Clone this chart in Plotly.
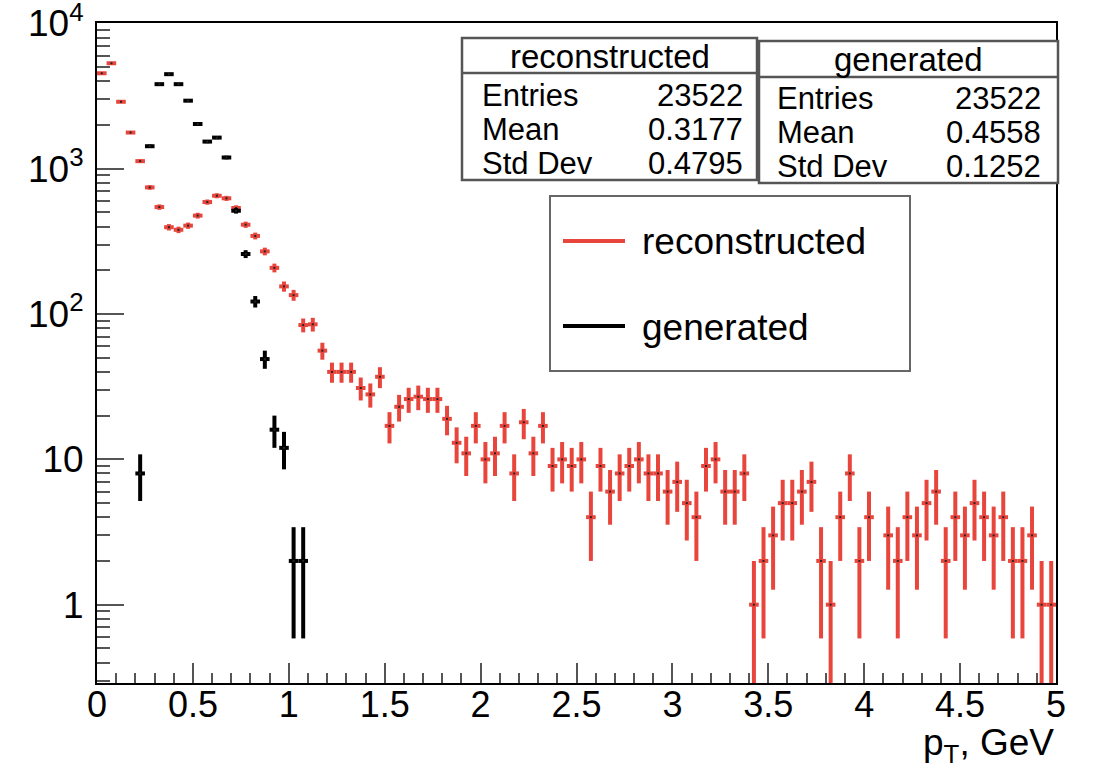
import numpy as np
import plotly.graph_objects as go

# ---------------- data ----------------
BIN_LOW, BIN_HIGH, N_BINS = 0.0, 5.0, 100

reco_counts = [
    4540, 5320, 2890, 1775, 1128, 744, 545, 396, 380, 406,
    476, 590, 652, 626, 537, 412, 345, 270, 208, 155,
    135, 84, 85, 56, 40, 40, 40, 31, 28, 37,
    17, 23, 26, 27, 26, 26, 19, 13, 11, 17,
    10, 11, 17, 8, 18, 11, 17, 9, 10, 9,
    10, 4, 9, 6, 8, 9, 10, 8, 8, 6,
    7, 5, 4, 9, 10, 6, 6, 8, 1, 2,
    3, 5, 5, 6, 7, 2, 1, 4, 8, 2,
    4, 0, 3, 2, 4, 3, 5, 6, 2, 4,
    3, 5, 4, 3, 4, 2, 2, 3, 1, 1,
]

gen_counts = [
    0, 0, 0, 0, 8, 1429, 3820, 4475, 3820, 2940,
    2032, 1538, 1638, 1195, 514, 259, 122, 49, 16, 12,
    2, 2, 0, 0, 0, 0, 0, 0, 0, 0,
] + [0] * 70

series_names = ["reconstructed", "generated"]
stat_labels = ["Entries", "Mean", "Std Dev"]
reco_stats = ["23522", "0.3177", "0.4795"]
gen_stats = ["23522", "0.4558", "0.1252"]

y_tickvals = [1, 10, 100, 1000, 10000]
y_ticktext = ["1", "10", "10<sup>2</sup>", "10<sup>3</sup>", "10<sup>4</sup>"]
x_title = "p<sub>T</sub>, GeV"

# ---------------- style ----------------
RED = "#e8453c"
BLACK = "#000000"
FONT = "Liberation Sans, Arial, Helvetica, sans-serif"
W, H = 1094, 773
L, R, T, B = 97, 38, 23, 90
PW, PH = W - L - R, H - T - B


def px(x):
    return (x - L) / PW


def py(y):
    return (H - B - y) / PH


bw = (BIN_HIGH - BIN_LOW) / N_BINS
centers = BIN_LOW + (np.arange(N_BINS) + 0.5) * bw


def hist_trace(counts, color, name):
    c = np.asarray(counts, dtype=float)
    m = c > 0
    return go.Scatter(
        x=centers[m], y=c[m], mode="markers", name=name, showlegend=False,
        marker=dict(size=2, color="#222222", symbol="square"),
        error_y=dict(type="data", array=np.sqrt(c[m]), color=color,
                     thickness=4, width=0),
        error_x=dict(type="constant", value=bw / 2, color=color,
                     thickness=4, width=0),
        hoverinfo="x+y",
    )


fig = go.Figure()
fig.add_trace(hist_trace(reco_counts, RED, series_names[0]))
fig.add_trace(hist_trace(gen_counts, BLACK, series_names[1]))

minor_y = [m * 10 ** d for d in range(-1, 4) for m in range(2, 10)
           if 10 ** (-0.54) <= m * 10 ** d <= 1e4]

fig.update_layout(
    width=W, height=H,
    margin=dict(l=L, r=R, t=T, b=B, autoexpand=False),
    paper_bgcolor="white", plot_bgcolor="white",
    font=dict(family=FONT, color="black"),
    showlegend=False,
    xaxis=dict(
        range=[BIN_LOW, BIN_HIGH], showline=True, linecolor="black",
        linewidth=2, mirror=True, ticks="inside", ticklen=20, tickwidth=2,
        tickcolor="#555555", tick0=0, dtick=0.5, showgrid=False,
        zeroline=False, tickfont=dict(size=36, family=FONT),
        ticklabelstandoff=-11, ticklabeloverflow="allow", automargin=False,
        minor=dict(dtick=0.1, tick0=0, ticks="inside", ticklen=10,
                   tickwidth=1.5, tickcolor="#555555", showgrid=False),
    ),
    yaxis=dict(
        type="log", range=[-0.539, 4.003], showline=True, linecolor="black",
        linewidth=2, mirror=True, ticks="inside", ticklen=27, tickwidth=2,
        tickcolor="#555555", tickmode="array", tickvals=y_tickvals,
        ticktext=y_ticktext, showgrid=False, zeroline=False,
        tickfont=dict(size=37, family=FONT), ticklabelstandoff=4,
        ticklabeloverflow="allow", automargin=False,
        minor=dict(tickmode="array", tickvals=minor_y, ticks="inside",
                   ticklen=13, tickwidth=1.5, tickcolor="#555555",
                   showgrid=False),
    ),
)

# x-axis title (right aligned, ROOT style)
fig.add_annotation(text=x_title, xref="paper", yref="paper",
                   x=px(1056), y=py(745), xanchor="right", yanchor="middle",
                   showarrow=False, font=dict(size=37, family=FONT))

# legend box (ROOT TLegend style)
fig.add_shape(type="rect", xref="paper", yref="paper",
              x0=px(550), x1=px(910), y0=py(371), y1=py(196),
              line=dict(color="#666666", width=2), fillcolor="white",
              layer="above")
for nm, col, ly in zip(series_names, [RED, BLACK], [241, 326]):
    fig.add_shape(type="line", xref="paper", yref="paper",
                  x0=px(563), x1=px(625), y0=py(ly), y1=py(ly),
                  line=dict(color=col, width=4), layer="above")
    fig.add_annotation(text=nm, xref="paper", yref="paper",
                       x=px(640), y=py(ly + 1), xanchor="left",
                       yanchor="middle", showarrow=False,
                       font=dict(size=37, family=FONT))

# statistics boxes
boxes = [
    dict(x0=462, x1=757, y0=38, y1=180, sep=73, title=series_names[0],
         vals=reco_stats, rows=[95, 129, 163], lx=480, rx=745, ty=56),
    dict(x0=759, x1=1058, y0=41, y1=183, sep=77, title=series_names[1],
         vals=gen_stats, rows=[98, 132, 166], lx=775, rx=1043, ty=59),
]
for bx in boxes:
    fig.add_shape(type="rect", xref="paper", yref="paper",
                  x0=px(bx["x0"]), x1=px(bx["x1"]), y0=py(bx["y1"]), y1=py(bx["y0"]),
                  line=dict(color="#555555", width=2.5), fillcolor="white", layer="above")
    fig.add_shape(type="line", xref="paper", yref="paper",
                  x0=px(bx["x0"]), x1=px(bx["x1"]), y0=py(bx["sep"]), y1=py(bx["sep"]),
                  line=dict(color="#555555", width=2.5), layer="above")
    fig.add_annotation(text=bx["title"], xref="paper", yref="paper",
                       x=px((bx["x0"] + bx["x1"]) / 2), y=py(bx["ty"]),
                       xanchor="center", yanchor="middle", showarrow=False,
                       font=dict(size=33, family=FONT))
    for lab, val, ry in zip(stat_labels, bx["vals"], bx["rows"]):
        fig.add_annotation(text=lab, xref="paper", yref="paper",
                           x=px(bx["lx"]), y=py(ry), xanchor="left",
                           yanchor="middle", showarrow=False,
                           font=dict(size=31, family=FONT))
        fig.add_annotation(text=val, xref="paper", yref="paper",
                           x=px(bx["rx"]), y=py(ry), xanchor="right",
                           yanchor="middle", showarrow=False,
                           font=dict(size=31, family=FONT))

fig.write_html("out.html")
